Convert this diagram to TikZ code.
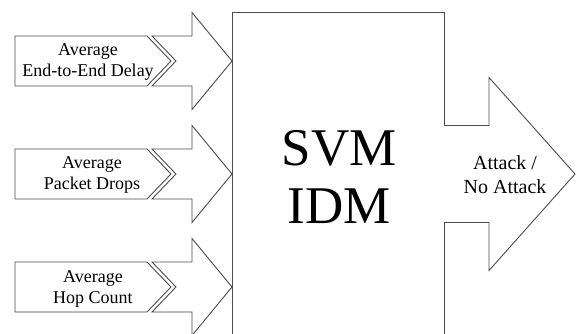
\documentclass[tikz,border=0pt]{standalone}
\usepackage{fontspec}
\setmainfont{Liberation Serif}
\begin{document}
\begin{tikzpicture}[x=1pt, y=-1pt,
  outline/.style={draw=black!70, line width=0.9pt, line join=miter, fill=white},
  featuretext/.style={inner sep=0pt, align=center, font=\fontsize{18}{21}\selectfont},
  resulttext/.style={inner sep=0pt, align=center, font=\fontsize{20}{24}\selectfont},
  coretext/.style={inner sep=0pt, align=center, font=\fontsize{53}{58.5}\selectfont},
  feature arrow/.pic={
    % notched block arrow pointing at the classifier
    \draw[outline] (152,-25) -- (192,-25) -- (192,-48.5) -- (232,0) -- (192,48.5)
      -- (192,25) -- (152,25) -- (176,0) -- cycle;
    % pentagon label plate
    \draw[outline] (15,-25) -- (147,-25) -- (171,0) -- (147,25) -- (15,25) -- cycle;
  }]
\useasboundingbox (0,0) rectangle (576,334);
\clip (0,0) rectangle (576,334);

% input features
\pic at (0,61) {feature arrow};
\pic at (0,174) {feature arrow};
\pic at (0,287) {feature arrow};

% classifier block (open at the bottom edge)
\draw[draw=black!70, line width=0.9pt] (232,340) -- (232,12) -- (444,12) -- (444,340);

% output arrow
\draw[outline] (444,125.5) -- (489,125.5) -- (489,77.5) -- (575,174) -- (489,270.5)
  -- (489,222.5) -- (444,222.5);

% labels
\node[featuretext] (f1) at (88,62.2) {Average\\End-to-End Delay};
\node[featuretext] (f2) at (92,175) {Average\\Packet Drops};
\node[featuretext] (f3) at (93,289.2) {Average\\Hop Count};
\node[coretext] (svm) at (339,177) {SVM\\IDM};
\node[resulttext] (res) at (505,174.3) {Attack /\\No Attack};
\end{tikzpicture}
\end{document}
